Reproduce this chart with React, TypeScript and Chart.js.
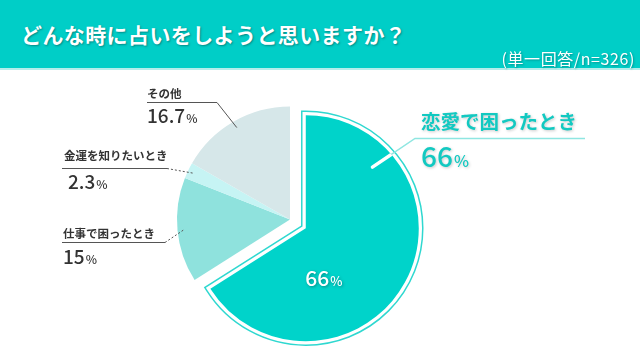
import React, { useEffect, useRef } from 'react';
import { Chart, registerables } from 'chart.js';

Chart.register(...registerables);

const title = 'どんな時に占いをしようと思いますか？';
const subtitle = '(単一回答/n=326)';
const categories = ['恋愛で困ったとき', '仕事で困ったとき', '金運を知りたいとき', 'その他'];
const values = [66, 15, 2.3, 16.7];
const valueLabels = ['66', '15', '2.3', '16.7'];
const colors = ['#00d3ca', '#8fe2dd', '#c6f4f4', '#d6e7e9'];

const FONT = '"Noto Sans CJK JP", "Noto Sans", sans-serif';
const EXPLODE = 18;
const RADIUS = 113;

// layout of the left-hand callouts (index into categories)
const leftCallouts = [
  { idx: 3, x: 147, nameBase: 98, lineY: 102, lineStart: 147, lineEnd: 217, valX: 147, valBase: 123, dashed: false },
  { idx: 2, x: 64, nameBase: 160, lineY: 168, lineStart: 62, lineEnd: 167, valX: 68, valBase: 189, dashed: true },
  { idx: 1, x: 63, nameBase: 238, lineY: 242, lineStart: 62, lineEnd: 165, valX: 63, valBase: 264, dashed: true },
];

function drawValue(ctx: CanvasRenderingContext2D, num: string, x: number, base: number, size: number, pct: number, color: string, align: 'left' | 'center' = 'left') {
  ctx.font = `500 ${size}px ${FONT}`;
  const w1 = ctx.measureText(num).width;
  ctx.font = `500 ${pct}px ${FONT}`;
  const w2 = ctx.measureText('%').width;
  let sx = x;
  if (align === 'center') sx = x - (w1 + 1 + w2) / 2;
  ctx.fillStyle = color;
  ctx.textAlign = 'left';
  ctx.textBaseline = 'alphabetic';
  ctx.font = `500 ${size}px ${FONT}`;
  ctx.fillText(num, sx, base);
  ctx.font = `500 ${pct}px ${FONT}`;
  ctx.fillText('%', sx + w1 + 1, base);
}

function slicePath(ctx: CanvasRenderingContext2D, el: any) {
  ctx.beginPath();
  ctx.moveTo(el.x, el.y);
  ctx.arc(el.x, el.y, el.outerRadius, el.startAngle, el.endAngle);
  ctx.closePath();
}

const piePlugin = {
  id: 'pieDecor',
  afterDatasetsUpdate(chart: any) {
    const el = chart.getDatasetMeta(0).data[0];
    const mid = (el.startAngle + el.endAngle) / 2;
    el.x += Math.cos(mid) * EXPLODE;
    el.y += Math.sin(mid) * EXPLODE;
  },
  beforeDatasetsDraw(chart: any) {
    const ctx: CanvasRenderingContext2D = chart.ctx;
    const el = chart.getDatasetMeta(0).data[0];
    ctx.save();
    slicePath(ctx, el);
    ctx.lineJoin = 'miter';
    ctx.miterLimit = 10;
    ctx.strokeStyle = '#2fd8d0';
    ctx.lineWidth = 9.5;
    ctx.stroke();
    ctx.strokeStyle = '#ffffff';
    ctx.lineWidth = 6.5;
    ctx.stroke();
    ctx.restore();
  },
  afterDatasetsDraw(chart: any) {
    const ctx: CanvasRenderingContext2D = chart.ctx;
    const meta = chart.getDatasetMeta(0);
    ctx.save();
    // left callouts
    leftCallouts.forEach((c) => {
      const el = meta.data[c.idx];
      const mid = (el.startAngle + el.endAngle) / 2;
      const px = el.x + Math.cos(mid) * el.outerRadius * 0.94;
      const py = el.y + Math.sin(mid) * el.outerRadius * 0.94;
      ctx.strokeStyle = '#555';
      ctx.lineWidth = 1;
      ctx.setLineDash([]);
      ctx.beginPath();
      ctx.moveTo(c.lineStart, c.lineY + 0.5);
      ctx.lineTo(c.lineEnd, c.lineY + 0.5);
      if (!c.dashed) ctx.lineTo(px, py);
      ctx.stroke();
      if (c.dashed) {
        ctx.setLineDash([2, 2]);
        ctx.beginPath();
        ctx.moveTo(c.lineEnd, c.lineY + 0.5);
        ctx.lineTo(px, py);
        ctx.stroke();
        ctx.setLineDash([]);
      }
      ctx.fillStyle = '#333';
      ctx.font = `bold 11.5px ${FONT}`;
      ctx.textAlign = 'left';
      ctx.textBaseline = 'alphabetic';
      ctx.fillText(categories[c.idx], c.x, c.nameBase);
      drawValue(ctx, valueLabels[c.idx], c.valX, c.valBase, 19, 12, '#333');
    });

    // main callout
    const m = meta.data[0];
    const ang = m.startAngle + (m.endAngle - m.startAngle) * 0.2;
    const ex = m.x + Math.cos(ang) * m.outerRadius * 0.8;
    const ey = m.y + Math.sin(ang) * m.outerRadius * 0.8;
    ctx.strokeStyle = '#8fe6e1';
    ctx.lineWidth = 1.5;
    ctx.beginPath();
    ctx.moveTo(585, 138.5);
    ctx.lineTo(415, 138.5);
    ctx.lineTo(ex, ey);
    ctx.stroke();
    ctx.save();
    slicePath(ctx, m);
    ctx.clip();
    ctx.strokeStyle = '#ffffff';
    ctx.lineWidth = 3.5;
    ctx.lineCap = 'round';
    ctx.beginPath();
    ctx.moveTo(415, 138.5);
    ctx.lineTo(ex, ey);
    ctx.stroke();
    ctx.restore();

    ctx.shadowColor = 'rgba(0,0,0,0.22)';
    ctx.shadowBlur = 3;
    ctx.shadowOffsetX = 1;
    ctx.shadowOffsetY = 1;
    ctx.fillStyle = '#12c9c1';
    ctx.font = `bold 19.5px ${FONT}`;
    ctx.textAlign = 'left';
    ctx.fillText(categories[0], 421, 129);
    drawValue(ctx, valueLabels[0], 421, 167, 28, 16, '#12c9c1');

    // inner label
    ctx.shadowColor = 'rgba(0,0,0,0.35)';
    drawValue(ctx, valueLabels[0], m.x + m.outerRadius * 0.16, m.y + m.outerRadius * 0.45 + 7, 21, 13, '#ffffff', 'center');
    ctx.restore();
  },
};

export default function App() {
  const ref = useRef<HTMLCanvasElement>(null);
  useEffect(() => {
    const chart = new Chart(ref.current as HTMLCanvasElement, {
      type: 'pie',
      data: {
        labels: categories,
        datasets: [
          {
            data: values,
            backgroundColor: colors,
            borderWidth: 0,
          },
        ],
      },
      options: {
        responsive: false,
        animation: false,
        radius: RADIUS,
        layout: { padding: { left: 0, right: 60, top: 79, bottom: 0 } },
        plugins: {
          legend: { display: false },
          tooltip: { enabled: false },
        },
      } as any,
      plugins: [piePlugin as any],
    });
    return () => chart.destroy();
  }, []);

  return (
    <div style={{ position: 'fixed', left: 0, top: 0, width: 640, height: 360, background: '#ffffff', overflow: 'hidden' }}>
      <canvas ref={ref} width={640} height={360} style={{ position: 'absolute', left: 0, top: 0 }} />
      <div
        style={{
          position: 'absolute',
          left: 0,
          top: 0,
          width: 640,
          height: 68,
          background: '#00cec7',
          borderBottom: '2px solid #b4eeeb',
          fontFamily: FONT,
          color: '#ffffff',
        }}
      >
        <div
          style={{
            position: 'absolute',
            left: 21,
            top: 22,
            fontSize: 21,
            lineHeight: '24px',
            fontWeight: 700,
            letterSpacing: 0.4,
            whiteSpace: 'nowrap',
            textShadow: '1px 1px 2px rgba(0,70,70,0.5)',
          }}
        >
          {title}
        </div>
        <div
          style={{
            position: 'absolute',
            right: 5,
            top: 49,
            fontSize: 16,
            lineHeight: '18px',
            fontWeight: 400,
            letterSpacing: 0.6,
            whiteSpace: 'nowrap',
            textShadow: '1px 1px 2px rgba(0,70,70,0.45)',
          }}
        >
          {subtitle}
        </div>
      </div>
    </div>
  );
}
